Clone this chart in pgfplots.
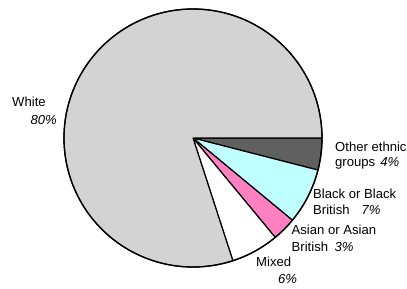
\documentclass[border=0pt]{standalone}
\usepackage{pgfplots}
\pgfplotsset{compat=1.18}
\usepackage{pgfplotstable}
\usepackage{fontspec}
\setmainfont{Liberation Sans}
\definecolor{cWhite}{HTML}{D3D3D3}
\definecolor{cMixed}{HTML}{FFFFFF}
\definecolor{cAsian}{HTML}{FF80C0}
\definecolor{cBlack}{HTML}{C0FFFF}
\definecolor{cOther}{HTML}{606060}

\pgfplotstableread[col sep=comma]{
name,value,color
Other,4,cOther
Black,7,cBlack
Asian,3,cAsian
Mixed,6,cMixed
White,80,cWhite
}\piedata

\def\R{129}
\newcommand\buildslices{%
  \gdef\slicecmds{}%
  \gdef\cumangle{0}%
  \pgfplotstablegetrowsof{\piedata}\edef\nrows{\pgfplotsretval}%
  \pgfmathtruncatemacro\lastrow{\nrows-1}%
  \foreach \r in {0,...,\lastrow}{%
    \pgfplotstablegetelem{\r}{value}\of\piedata\let\sliceval\pgfplotsretval
    \pgfplotstablegetelem{\r}{color}\of\piedata\let\slicecol\pgfplotsretval
    \pgfmathsetmacro\anga{\cumangle}%
    \pgfmathsetmacro\angb{\cumangle-3.6*\sliceval}%
    \xdef\cumangle{\angb}%
    \xdef\slicecmds{\unexpanded\expandafter{\slicecmds}%
      \noexpand\filldraw[fill=\slicecol,draw=black,line width=1.2pt,line join=round]
        (axis cs:0,0) -- (axis cs:{\R*cos(\anga)},{\R*sin(\anga)})
        arc[start angle=\anga,end angle=\angb,radius=\R pt] -- cycle;}%
  }%
}
\buildslices

\begin{document}
\begin{tikzpicture}
\begin{axis}[
  x=1pt, y=1pt,
  xmin=-193, xmax=214, ymin=-151, ymax=138,
  hide axis, clip=false,
  scale only axis,
]
\path (axis cs:-193,-151) rectangle (axis cs:214,138);
\slicecmds
\draw[black,line width=1.3pt] (axis cs:0,0) circle[radius=\R pt];
\begin{scope}[every node/.style={inner sep=0pt,font=\fontsize{13.1}{15}\selectfont}]
\node[anchor=base west] at (axis cs:-181,31.4) {White};
\node[anchor=base east] at (axis cs:-136,13.4) {\itshape 80\%};
\node[anchor=base west] at (axis cs:142,-13.7) {Other ethnic};
\node[anchor=base west] at (axis cs:142,-28.7) {groups\hspace{5pt}\itshape 4\%};
\node[anchor=base west] at (axis cs:120,-60.3) {Black or Black};
\node[anchor=base west] at (axis cs:120,-77) {British\hspace{12pt}\itshape 7\%};
\node[anchor=base west] at (axis cs:98.5,-97) {Asian or Asian};
\node[anchor=base west] at (axis cs:98.5,-113.7) {British\hspace{6.5pt}\itshape 3\%};
\node[anchor=base west] at (axis cs:63,-128.7) {Mixed};
\node[anchor=base west] at (axis cs:85,-145.3) {\itshape 6\%};
\end{scope}
\end{axis}
\pgfresetboundingbox
\useasboundingbox (current axis.south west) rectangle (current axis.north east);
\end{tikzpicture}
\end{document}
